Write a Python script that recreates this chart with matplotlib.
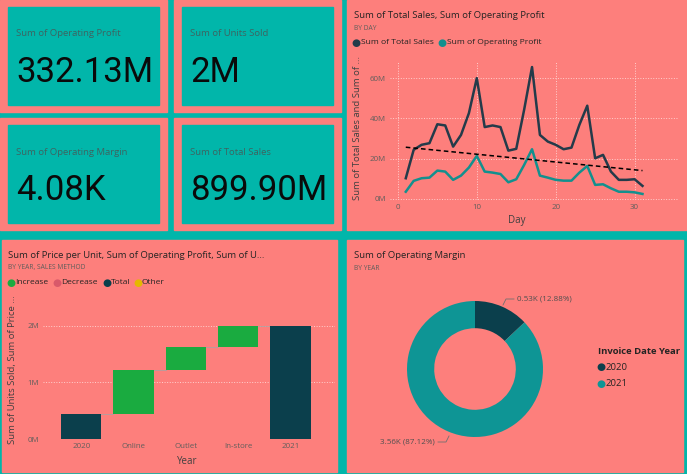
import numpy as np
import matplotlib.pyplot as plt
from matplotlib.patches import Rectangle

# ---- data ----
card_labels = ['Sum of Operating Profit', 'Sum of Units Sold', 'Sum of Operating Margin', 'Sum of Total Sales']
card_values = ['332.13M', '2M', '4.08K', '899.90M']

days = list(range(1, 32))
total_sales = [10.3, 24.4, 26.9, 27.7, 37.1, 36.5, 26.0, 31.8, 42.6, 60.0,
               35.7, 36.5, 35.7, 24.0, 24.9, 44.3, 65.5, 31.8, 28.5, 26.9,
               24.7, 25.5, 36.8, 46.3, 20.2, 21.9, 13.6, 9.5, 9.5, 9.8, 6.5]
operating_profit = [3.6, 9.0, 10.3, 10.6, 14.1, 13.6, 9.5, 11.6, 15.6, 21.4,
                    13.6, 13.1, 12.4, 8.3, 9.8, 16.9, 24.7, 11.6, 10.6, 9.5,
                    9.1, 9.1, 13.1, 16.4, 7.0, 7.3, 5.3, 3.6, 3.6, 3.3, 2.5]
trend_days = [1, 31]
trend_values = [25.7, 14.1]

wf_categories = ['2020', 'Online', 'Outlet', 'In-store', '2021']
wf_start = 0.45          # 2020 total units (M)
wf_steps = [0.77, 0.41, 0.37]   # increases by sales method (M)
wf_legend = ['Increase', 'Decrease', 'Total', 'Other']

donut_years = ['2020', '2021']
donut_values = [0.53, 3.56]
donut_pcts = ['12.88%', '87.12%']

W, H = 687, 474
TEAL_BG = '#01B6AA'
SALMON = '#FD7F7C'
DARK = '#243B4A'
TEAL_LINE = '#12908E'
GREEN = '#1AAB40'
RED = '#D9596A'
NAVY = '#0B3F4C'
YELLOW = '#E5B800'
GREY = '#605E5C'
TITLE = '#252423'
FONT = 'Open Sans'

plt.rcParams['font.family'] = [FONT, 'DejaVu Sans']

fig = plt.figure(figsize=(W / 100, H / 100), dpi=100)
fig.patch.set_facecolor(TEAL_BG)


def fx(x):
    return x / W


def fy(y):
    return 1 - y / H


def box(x0, y0, x1, y1, color):
    fig.patches.append(Rectangle((fx(x0), fy(y1)), (x1 - x0) / W, (y1 - y0) / H,
                                 transform=fig.transFigure, color=color, zorder=-10))


def axes_px(x0, y0, x1, y1):
    ax = fig.add_axes([fx(x0), fy(y1), (x1 - x0) / W, (y1 - y0) / H])
    ax.set_facecolor('none')
    for s in ax.spines.values():
        s.set_visible(False)
    return ax


def dot(x, y, color):
    fig.text(fx(x), fy(y), '\u25cf', fontsize=7.5, color=color, va='center', ha='center',
             family='DejaVu Sans')


# ---- cards ----
card_boxes = [(0, 0, 167, 112), (174, 0, 341, 112), (0, 118, 167, 230), (174, 118, 341, 230)]
for (x0, y0, x1, y1), lab, val in zip(card_boxes, card_labels, card_values):
    box(x0, y0, x1, y1, SALMON)
    box(x0 + 8, y0 + 7, x1 - 8, y1 - 7, TEAL_BG)
    fig.text(fx(x0 + 16), fy(y0 + 34), lab, fontsize=6.8, color='#3D6461', va='center')
    fig.text(fx(x0 + 16), fy(y0 + 82), val, fontsize=25, color='#0A0A0A', va='baseline',
             family=['Roboto', 'DejaVu Sans'])

# ---- line chart panel ----
box(347, 0, 687, 230, SALMON)
fig.text(fx(354), fy(16), 'Sum of Total Sales, Sum of Operating Profit', fontsize=6.8, color=TITLE, va='center')
fig.text(fx(354), fy(28), 'BY DAY', fontsize=4.8, color=GREY, va='center')
dot(356, 43, DARK)
fig.text(fx(361), fy(43), 'Sum of Total Sales', fontsize=6.1, color=TITLE, va='center')
dot(442, 43, TEAL_LINE)
fig.text(fx(447), fy(43), 'Sum of Operating Profit', fontsize=6.1, color=TITLE, va='center')

ax1 = axes_px(390, 62, 678, 200)
ax1.plot(days, total_sales, color=DARK, lw=1.8)
ax1.plot(days, operating_profit, color=TEAL_LINE, lw=1.8)
ax1.plot(trend_days, trend_values, color='black', lw=1.1, ls=(0, (3, 2)))
ax1.set_xlim(-1, 35.5)
ax1.set_ylim(-0.5, 68)
ax1.set_xticks([0, 10, 20, 30])
ax1.set_yticks([0, 20, 40, 60])
ax1.set_yticklabels(['0M', '20M', '40M', '60M'])
ax1.tick_params(length=0, labelsize=5.7, labelcolor=GREY, pad=3)
ax1.grid(True, color='#FFD0CE', ls=':', lw=0.7)
ax1.set_axisbelow(True)
fig.text(fx(517), fy(220), 'Day', fontsize=7, color='#404040', ha='center', va='center')
fig.text(fx(358), fy(128), 'Sum of Total Sales and Sum of ...', fontsize=6.8, color='#404040',
         ha='center', va='center', rotation=90)

# ---- waterfall panel ----
box(2, 240, 337, 472, SALMON)
fig.text(fx(8), fy(256), 'Sum of Price per Unit, Sum of Operating Profit, Sum of U...', fontsize=6.8,
         color=TITLE, va='center')
fig.text(fx(8), fy(268), 'BY YEAR, SALES METHOD', fontsize=4.8, color=GREY, va='center')
for name, col, lx in zip(wf_legend, [GREEN, RED, NAVY, YELLOW], [11, 57, 107, 138]):
    dot(lx, 283, col)
    fig.text(fx(lx + 4), fy(283), name, fontsize=6.0, color=TITLE, va='center')

ax2 = axes_px(43, 300, 335, 439)
cum = [wf_start]
for s in wf_steps:
    cum.append(cum[-1] + s)
x = np.arange(len(wf_categories))
bottoms = [0] + cum[:-1] + [0]
heights = [wf_start] + wf_steps + [cum[-1]]
colors = [NAVY] + [GREEN] * len(wf_steps) + [NAVY]
ax2.bar(x, heights, bottom=bottoms, width=0.77, color=colors, zorder=3)
for i in range(len(x) - 1):
    lvl = bottoms[i] + heights[i]
    ax2.plot([x[i] + 0.385, x[i + 1] - 0.385], [lvl, lvl], color='#B0A0A0', lw=0.6, zorder=2)
ax2.set_xlim(-0.73, 4.85)
ax2.set_ylim(0, 2.46)
ax2.set_xticks(x)
ax2.set_xticklabels(wf_categories)
ax2.set_yticks([0, 1, 2])
ax2.set_yticklabels(['0M', '1M', '2M'])
ax2.tick_params(length=0, labelsize=5.7, labelcolor=GREY, pad=3)
ax2.grid(True, axis='y', color='#FFD0CE', ls=':', lw=0.7)
ax2.set_axisbelow(True)
fig.text(fx(187), fy(461), 'Year', fontsize=7, color='#404040', ha='center', va='center')
fig.text(fx(13), fy(370), 'Sum of Units Sold, Sum of Price ...', fontsize=6.8, color='#404040',
         ha='center', va='center', rotation=90)

# ---- donut panel ----
box(347, 240, 683, 472, SALMON)
fig.text(fx(354), fy(256), 'Sum of Operating Margin', fontsize=6.8, color=TITLE, va='center')
fig.text(fx(354), fy(268), 'BY YEAR', fontsize=4.8, color=GREY, va='center')

ax3 = axes_px(407, 301, 543, 437)
ax3.pie(donut_values, colors=[NAVY, '#0E9595'], startangle=90, counterclock=False,
        wedgeprops=dict(width=0.4, linewidth=0))
ax3.set_aspect('equal')
ax3.set_xlim(-1, 1)
ax3.set_ylim(-1, 1)
fig.text(fx(517), fy(299), f'{donut_values[0]:.2f}K ({donut_pcts[0]})', fontsize=5.8, color='#505050', va='center')
fig.text(fx(435), fy(442), f'{donut_values[1]:.2f}K ({donut_pcts[1]})', fontsize=5.8, color='#505050',
         va='center', ha='right')
fig.lines.append(plt.Line2D([fx(503), fx(506), fx(514)], [fy(305), fy(299), fy(299)],
                            transform=fig.transFigure, color='#707070', lw=0.6))
fig.lines.append(plt.Line2D([fx(438), fx(446), fx(449)], [fy(442), fy(442), fy(436)],
                            transform=fig.transFigure, color='#707070', lw=0.6))
fig.text(fx(598), fy(352), 'Invoice Date Year', fontsize=6.8, color=TITLE, va='center', weight='bold')
for yy, yr, col in [(367, donut_years[0], NAVY), (384, donut_years[1], '#0E9595')]:
    dot(601, yy, col)
    fig.text(fx(606), fy(yy), yr, fontsize=6.8, color=TITLE, va='center')

fig.savefig('out.png', dpi=100, facecolor=fig.get_facecolor())
